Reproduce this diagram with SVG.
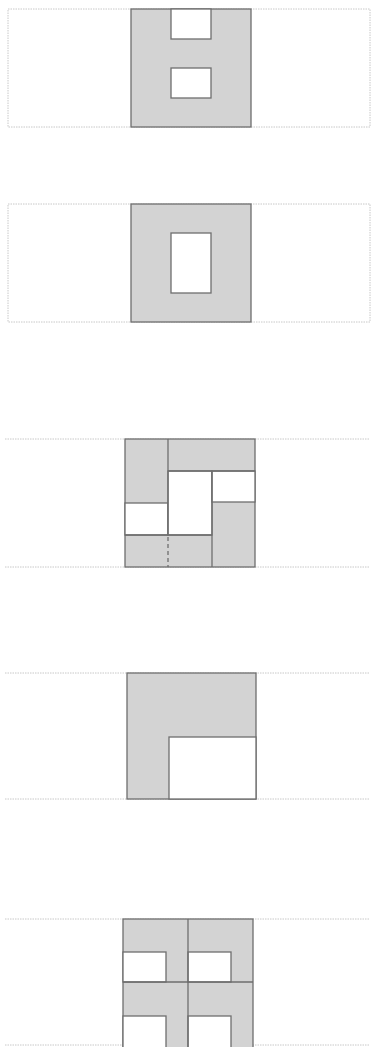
<svg xmlns="http://www.w3.org/2000/svg" width="371" height="1047" viewBox="0 0 371 1047">
<style>
.guide{fill:none;stroke:#c8c8c8;stroke-width:1;stroke-dasharray:1.5 1}
.g{fill:#d3d3d3;stroke:#6e6e6e;stroke-width:1.3}
.w{fill:#fff;stroke:#6e6e6e;stroke-width:1.3}
.l{fill:none;stroke:#6e6e6e;stroke-width:1.3}
.d{fill:none;stroke:#6e6e6e;stroke-width:1.3;stroke-dasharray:4 3}
</style>
<rect width="371" height="1047" fill="#fff"/>
<g id="guides">
<rect class="guide" x="8" y="9" width="362" height="118"/>
<rect class="guide" x="8" y="204" width="362" height="118"/>
<line class="guide" x1="5" y1="439" x2="370" y2="439"/>
<line class="guide" x1="5" y1="567" x2="370" y2="567"/>
<line class="guide" x1="5" y1="673" x2="370" y2="673"/>
<line class="guide" x1="5" y1="799" x2="370" y2="799"/>
<line class="guide" x1="5" y1="919" x2="370" y2="919"/>
<line class="guide" x1="5" y1="1045" x2="370" y2="1045"/>
</g>
<g id="plan1">
<rect class="g" x="131" y="9" width="120" height="118"/>
<rect class="w" x="171" y="9" width="40" height="30"/>
<rect class="w" x="171" y="68" width="40" height="30"/>
</g>
<g id="plan2">
<rect class="g" x="131" y="204" width="120" height="118"/>
<rect class="w" x="171" y="233" width="40" height="60"/>
</g>
<g id="plan3">
<rect class="g" x="125" y="439" width="130" height="128"/>
<rect class="w" x="125" y="503" width="43" height="32"/>
<rect class="w" x="168" y="471" width="44" height="64"/>
<rect class="w" x="212" y="471" width="43" height="31"/>
<line class="l" x1="168" y1="439" x2="168" y2="535"/>
<line class="l" x1="168" y1="471" x2="255" y2="471"/>
<line class="l" x1="212" y1="471" x2="212" y2="567"/>
<line class="l" x1="125" y1="535" x2="212" y2="535"/>
<line class="d" x1="168" y1="537" x2="168" y2="567"/>
</g>
<g id="plan4">
<rect class="g" x="127" y="673" width="129" height="126"/>
<rect class="w" x="169" y="737" width="87" height="62"/>
</g>
<g id="plan5">
<rect class="g" x="123" y="919" width="130" height="130"/>
<rect class="w" x="123" y="952" width="43" height="30"/>
<rect class="w" x="188" y="952" width="43" height="30"/>
<rect class="w" x="123" y="1016" width="43" height="35"/>
<rect class="w" x="188" y="1016" width="43" height="35"/>
<line class="l" x1="188" y1="919" x2="188" y2="1047"/>
<line class="l" x1="123" y1="982" x2="253" y2="982"/>
</g>
</svg>
